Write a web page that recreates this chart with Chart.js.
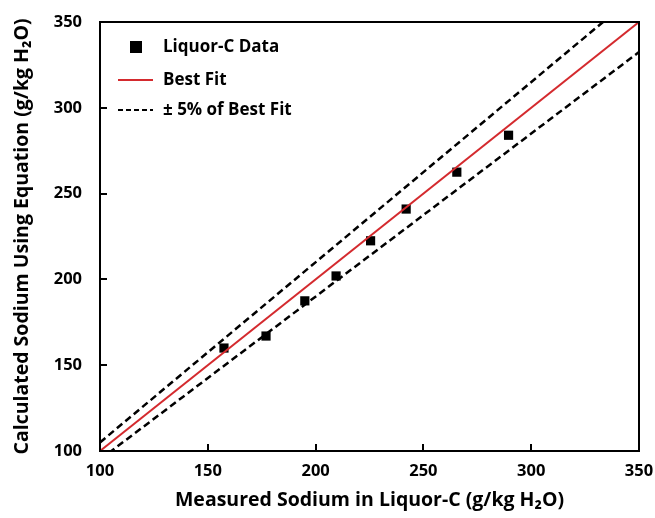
<!DOCTYPE html>
<html>
<head>
<meta charset="utf-8">
<script src="https://cdn.jsdelivr.net/npm/chart.js@4.4.1/dist/chart.umd.min.js"></script>
<style>
    html, body { margin: 0; padding: 0; background: #fff; }
    #wrap { width: 655px; height: 518px; }
</style>
</head>
<body>
<div id="wrap"><canvas id="sodiumChart"></canvas></div>
<script>
// measured vs calculated sodium (g/kg H2O)
const measured = [157.5, 177, 195, 209.5, 225.5, 242, 265.5, 289.5];
const calculated = [160, 167, 187.5, 202, 222.5, 241, 262.5, 284];

// best fit and the +/- 5% band
const fitX = [100, 350];
const fitY = [100, 350];
const upperY = [105, 367.5];
const lowerY = [95, 332.5];

const axisTicks = [100, 150, 200, 250, 300, 350];

const FONT = "'Open Sans', sans-serif";
const RED = "#d42a2e";

function pairs(xs, ys) {
    return xs.map((x, i) => ({ x: x, y: ys[i] }));
}

// inward tick marks + frame
const innerTicks = {
    id: "innerTicks",
    afterDraw(chart) {
        const ctx = chart.ctx;
        const a = chart.chartArea;
        const xs = chart.scales.x, ys = chart.scales.y;
        ctx.save();
        ctx.strokeStyle = "#000";
        ctx.lineWidth = 2;
        axisTicks.forEach(v => {
            const px = Math.round(xs.getPixelForValue(v));
            ctx.beginPath();
            ctx.moveTo(px, a.bottom);
            ctx.lineTo(px, a.bottom - 7);
            ctx.stroke();
            const py = Math.round(ys.getPixelForValue(v));
            ctx.beginPath();
            ctx.moveTo(a.left, py);
            ctx.lineTo(a.left + 7, py);
            ctx.stroke();
        });
        ctx.strokeRect(a.left, a.top, a.right - a.left, a.bottom - a.top);
        ctx.restore();
    }
};

// legend drawn inside the plot, top left
const insideLegend = {
    id: "insideLegend",
    afterDraw(chart) {
        const ctx = chart.ctx;
        ctx.save();
        ctx.font = "bold 17px " + FONT;
        ctx.fillStyle = "#000";
        ctx.textBaseline = "middle";
        ctx.fillText("Liquor-C Data", 163, 47);
        ctx.fillText("Best Fit", 163, 80);
        ctx.fillText("\u00B1 5% of Best Fit", 163, 110);

        ctx.fillRect(130, 41, 12, 12);

        ctx.strokeStyle = RED;
        ctx.lineWidth = 2;
        ctx.beginPath();
        ctx.moveTo(118, 80);
        ctx.lineTo(153, 80);
        ctx.stroke();

        ctx.strokeStyle = "#000";
        ctx.setLineDash([5, 3]);
        ctx.beginPath();
        ctx.moveTo(118, 110);
        ctx.lineTo(153, 110);
        ctx.stroke();
        ctx.restore();
    }
};

new Chart(document.getElementById("sodiumChart"), {
    type: "scatter",
    data: {
        datasets: [
            {
                label: "+5%",
                data: pairs(fitX, upperY),
                showLine: true,
                borderColor: "#000",
                borderWidth: 2.5,
                borderDash: [7, 4],
                pointRadius: 0
            },
            {
                label: "-5%",
                data: pairs(fitX, lowerY),
                showLine: true,
                borderColor: "#000",
                borderWidth: 2.5,
                borderDash: [7, 4],
                pointRadius: 0
            },
            {
                label: "Best Fit",
                data: pairs(fitX, fitY),
                showLine: true,
                borderColor: RED,
                borderWidth: 2,
                pointRadius: 0
            },
            {
                label: "Liquor-C Data",
                data: pairs(measured, calculated),
                pointStyle: "rect",
                pointRadius: 6.5,
                backgroundColor: "#000",
                borderColor: "#000",
                borderWidth: 0
            }
        ]
    },
    options: {
        responsive: true,
        maintainAspectRatio: false,
        animation: false,
        layout: { padding: { top: 22, right: 16, left: 0, bottom: 0 } },
        plugins: {
            legend: { display: false },
            tooltip: { enabled: false }
        },
        scales: {
            x: {
                type: "linear",
                min: 100,
                max: 350,
                afterBuildTicks: s => { s.ticks = axisTicks.map(v => ({ value: v })); },
                afterFit: s => { s.height = 67; s.paddingLeft = 0; s.paddingRight = 0; },
                grid: { display: false, drawTicks: false },
                border: { display: false },
                ticks: {
                    color: "#000",
                    padding: 10,
                    font: { family: FONT, size: 16.5, weight: "bold" }
                },
                title: {
                    display: true,
                    text: "Measured Sodium in Liquor-C (g/kg H\u2082O)",
                    color: "#000",
                    padding: { top: 0, bottom: 6 },
                    font: { family: FONT, size: 19.5, weight: "bold" }
                }
            },
            y: {
                type: "linear",
                min: 100,
                max: 350,
                afterBuildTicks: s => { s.ticks = axisTicks.map(v => ({ value: v })); },
                afterFit: s => { s.width = 100; s.paddingTop = 0; s.paddingBottom = 0; },
                grid: { display: false, drawTicks: false },
                border: { display: false },
                ticks: {
                    color: "#000",
                    padding: 18,
                    font: { family: FONT, size: 16.5, weight: "bold" }
                },
                title: {
                    display: true,
                    text: "Calculated Sodium Using Equation (g/kg H\u2082O)",
                    color: "#000",
                    padding: { top: 11, bottom: 0 },
                    font: { family: FONT, size: 19.5, weight: "bold" }
                }
            }
        }
    },
    plugins: [innerTicks, insideLegend]
});
</script>
</body>
</html>
